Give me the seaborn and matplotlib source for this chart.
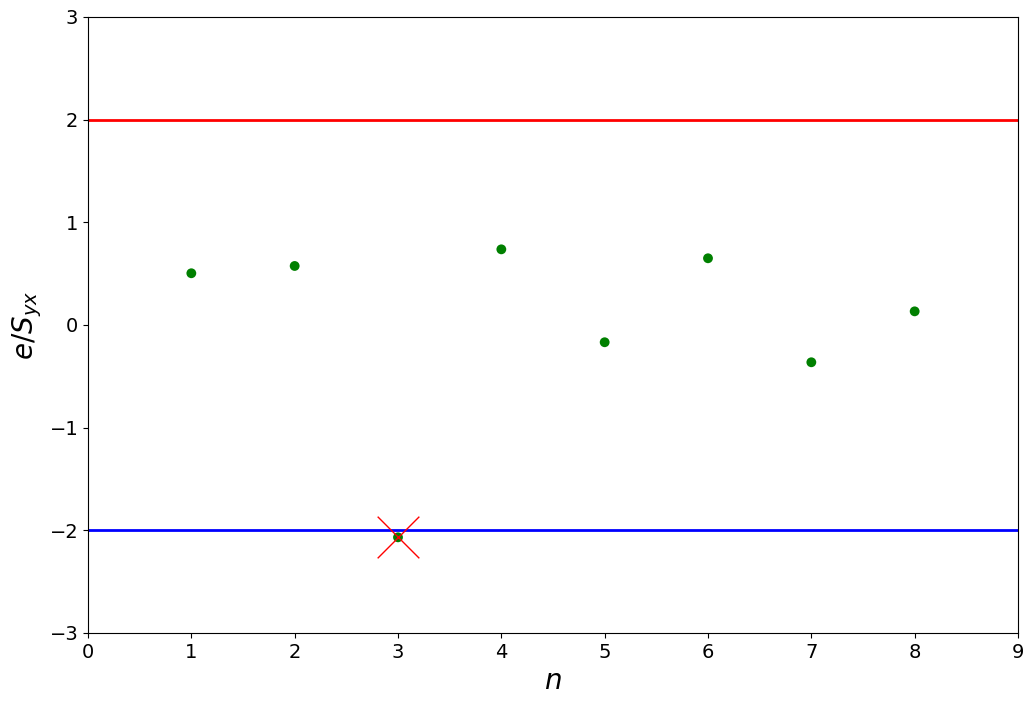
import matplotlib
matplotlib.use("Agg")
import matplotlib.pyplot as plt
import seaborn as sns
import pandas as pd

n_vals = [1, 2, 3, 4, 5, 6, 7, 8]
resid = [0.504, 0.575, -2.068, 0.737, -0.168, 0.650, -0.363, 0.133]
outlier_n = [3]
outlier_r = [-2.068]
upper_lim = 2
lower_lim = -2

df = pd.DataFrame({"n": n_vals, "r": resid})
dfo = pd.DataFrame({"n": outlier_n, "r": outlier_r})

fig, ax = plt.subplots(figsize=(10.33, 7.05), dpi=100)
fig.subplots_adjust(left=88/1033, right=1018/1033, top=1-17/705, bottom=1-633/705)

ax.axhline(upper_lim, color="red", lw=2)
ax.axhline(lower_lim, color="blue", lw=2)
sns.scatterplot(data=df, x="n", y="r", color="green", s=50, edgecolor="none", ax=ax, zorder=3)
sns.scatterplot(data=dfo, x="n", y="r", marker="x", color="red", s=900, linewidth=1, ax=ax, zorder=4)

ax.set_xlim(0, 9)
ax.set_ylim(-3, 3)
ax.set_xticks(range(0, 10))
ax.set_yticks(range(-3, 4))
ax.tick_params(labelsize=14)
ax.set_xlabel("$n$", fontsize=20)
ax.set_ylabel("$e/S_{yx}$", fontsize=20)

fig.savefig("out.png", dpi=100)
